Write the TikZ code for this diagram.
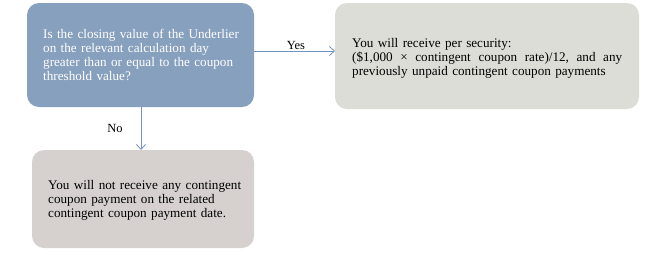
\documentclass[tikz,border=0pt]{standalone}
\usepackage{fontspec}
\setmainfont{Liberation Serif}
\usetikzlibrary{arrows.meta}
\definecolor{qblue}{HTML}{87A0BE}
\definecolor{ygrey}{HTML}{DCDDD6}
\definecolor{ngrey}{HTML}{D6D1CF}
\definecolor{arr}{HTML}{6F93C5}
\tikzset{
  box/.style={rounded corners=12bp, draw=none, inner sep=0pt},
  txt/.style={anchor=north west, align=left, font=\fontsize{13.2}{14}\selectfont, inner sep=0pt},
  conn/.style={draw=arr, line width=0.8pt, -{Straight Barb[length=5bp,width=9bp]}},
  lbl/.style={font=\fontsize{12.5}{14}\selectfont, inner sep=0pt}
}
\begin{document}
\begin{tikzpicture}[x=1bp,y=-1bp]
\useasboundingbox (0,0) rectangle (648,257);
\fill[qblue, rounded corners=12bp] (27,3) rectangle (254,107);
\fill[ygrey, rounded corners=12bp] (335,3) rectangle (639,109);
\fill[ngrey, rounded corners=12bp] (32,150) rectangle (254,248);
\node[box, minimum width=227bp, minimum height=104bp, anchor=north west] (q) at (27,3) {};
\node[box, minimum width=304bp, minimum height=106bp, anchor=north west] (y) at (335,3) {};
\node[box, minimum width=222bp, minimum height=98bp, anchor=north west] (n) at (32,150) {};
\node[txt, text=white, text width=205bp] (qt) at (43,29) {Is the closing value of the Underlier\\on the relevant calculation day\\greater than or equal to the coupon\\threshold value?};
\node[txt, text width=272bp] (yt) at (352,38) {You will receive per security:\\\makebox[270bp][l]{(\$1,000\hfill×\hfill contingent\hfill coupon\hfill rate)/12,\hfill and\hfill any}\\previously unpaid contingent coupon payments};
\node[txt, text width=205bp] (nt) at (48,180) {You will not receive any contingent\\coupon payment on the related\\contingent coupon payment date.};
\draw[conn] (q.east |- 0,51) -- (y.west |- 0,51);
\draw[conn] (141,107) -- (141,150);
\node[lbl] (yes) at (296,45) {Yes};
\node[lbl] (no) at (115,128) {No};
\end{tikzpicture}
\end{document}
